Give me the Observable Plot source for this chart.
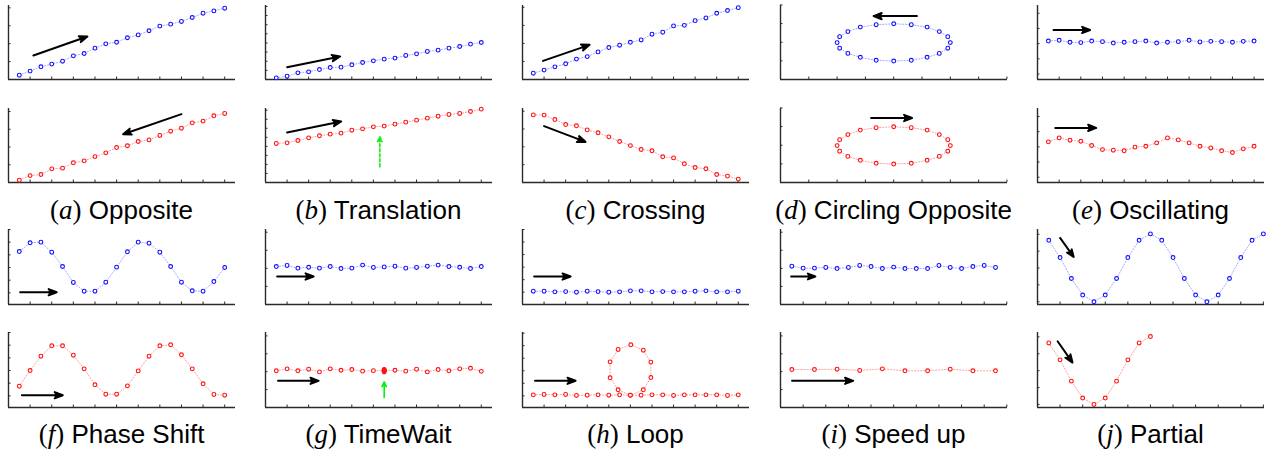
<!DOCTYPE html>
<html><head><meta charset="utf-8">
<script src="https://cdn.jsdelivr.net/npm/d3@7"></script>
<script src="https://cdn.jsdelivr.net/npm/@observablehq/plot@0.6"></script>
<style>
html,body{margin:0;padding:0;background:#fff;}
#root{position:relative;width:1272px;height:454px;overflow:hidden;background:#fff;}
.panel{position:absolute;}
.cap{position:absolute;font-family:"Liberation Sans",sans-serif;font-size:26px;line-height:26px;white-space:nowrap;transform:translateX(-50%);color:#000;}
.cap .m{font-family:"Liberation Serif",serif;font-size:27px;}
</style></head><body><div id="root"></div>
<script>
// ---------- data ----------
const xHalf20 = [0.5,1,1.5,2,2.5,3,3.5,4,4.5,5,5.5,6,6.5,7,7.5,8,8.5,9,9.5,10];
const xHalf19 = [0.5,1,1.5,2,2.5,3,3.5,4,4.5,5,5.5,6,6.5,7,7.5,8,8.5,9,9.5];
const xOdd10  = [0.5,1.5,2.5,3.5,4.5,5.5,6.5,7.5,8.5,9.5];
const xHalf10 = [0.5,1,1.5,2,2.5,3,3.5,4,4.5,5];

const aTopY = [0.24,0.47,0.71,0.86,1.02,1.32,1.45,1.75,1.99,2.08,2.33,2.49,2.72,2.98,3.09,3.24,3.46,3.70,3.83,3.98];
const aBotY = [0.13,0.39,0.45,0.77,0.81,1.11,1.22,1.46,1.67,1.97,2.07,2.31,2.40,2.65,2.89,3.06,3.36,3.46,3.76,3.89];
const bTopY = [0.18,0.36,0.73,0.84,1.09,1.31,1.35,1.61,1.86,2.04,2.23,2.34,2.63,2.81,3.07,3.21,3.43,3.61,3.87,4.05];
const bBotY = [4.32,4.39,4.65,4.94,5.17,5.35,5.46,5.79,5.94,6.16,6.24,6.46,6.68,6.90,7.12,7.34,7.53,7.64,7.86,8.12];
const cTopY = [0.35,0.52,0.70,0.87,1.13,1.27,1.53,1.77,1.90,2.06,2.19,2.51,2.62,2.97,3.00,3.26,3.41,3.67,3.82,3.98];
const cBotY = [3.79,3.78,3.53,3.25,3.18,2.95,2.79,2.56,2.30,2.07,1.85,1.78,1.44,1.38,1.05,0.84,0.77,0.45,0.36,0.19];
const dX = [4.0,4.62,5.18,5.61,5.91,6.0,5.91,5.61,5.18,4.62,4.0,3.38,2.82,2.38,2.09,2.0,2.09,2.38,2.82,3.38];
const dY = [2.99,2.94,2.81,2.57,2.30,1.98,1.68,1.40,1.19,1.03,0.99,1.03,1.19,1.40,1.68,1.98,2.30,2.57,2.81,2.94];
const eTopY = [0.17,0.22,0.09,0.07,0.17,0.13,0.04,0.09,0.13,0.17,0.04,0.09,0.13,0.22,0.11,0.15,0.13,0.09,0.15,0.17];
const eBotY = [0.33,0.59,0.44,0.37,0.09,-0.18,-0.22,-0.26,-0.02,0.04,0.26,0.59,0.46,0.26,0.04,-0.07,-0.26,-0.37,-0.13,0.04];
const fTopY = [1.26,1.95,2.0,1.21,0.08,-1.18,-1.87,-1.87,-1.16,0.03,1.24,2.0,1.92,1.21,0.08,-1.16,-1.84,-1.87,-1.11,0.0];
const fBotY = [-1.24,0.0,1.13,1.95,1.95,1.21,0.13,-1.13,-1.87,-1.87,-1.21,-0.03,1.13,1.95,2.03,1.24,0.13,-1.05,-1.89,-1.95];
const gTopY = [2.10,2.16,2.01,2.06,2.01,2.10,1.99,2.01,2.18,2.05,2.08,2.12,2.01,2.05,2.12,2.18,2.10,2.06,1.99,2.10];
const gBotY = [2.05,2.16,2.05,2.14,1.99,2.16,2.08,2.12,2.03,2.06,2.06,2.08,2.03,2.14,1.99,2.12,2.05,2.16,2.19,2.02];
const gWaitX = [5.5,5.5,5.5,5.5,5.5];
const gWaitY = [1.98,2.02,2.06,2.10,2.13];
const hTopY = [0.08,0.08,0.03,0.05,0.0,0.08,0.05,0.0,0.03,0.11,0.11,0.03,0.05,0.03,0.03,0.08,0.11,0.03,0.03,0.08];
const hBotX = [0.5,1,1.5,2,2.5,3,3.5,4,4.5,5,5.6,5.95,5.95,5.6,5.02,4.43,4.06,4.06,4.43,5,5.5,6,6.5,7,7.5,8,8.5,9,9.5,10];
const hBotY = [0.08,0.11,0.08,0.11,0.03,0.05,0.08,0.05,0.08,0.05,0.48,1.46,2.69,3.64,4.07,3.70,2.71,1.44,0.48,0.05,0.05,0.08,0.08,0.03,0.08,0.08,0.08,0.08,0.03,0.08];
const iTopY = [2.12,2.01,2.01,2.05,1.99,2.05,2.16,2.10,1.99,2.07,1.99,1.99,1.99,2.16,2.05,1.99,2.10,2.16,2.05];
const iBotY = [2.12,2.12,2.14,2.07,2.16,2.05,2.05,2.14,2.05,2.05];
const jTopY = [0.82,0.31,-0.31,-0.80,-1.0,-0.80,-0.31,0.31,0.82,1.01,0.82,0.31,-0.31,-0.80,-1.0,-0.80,-0.31,0.31,0.82,1.01];
const jBotY = [0.82,0.32,-0.31,-0.81,-1.0,-0.81,-0.31,0.32,0.82,1.01];

// arrows: [x1, y1, x2, y2]
const aTopArrow = [1.15,1.34,3.65,2.40];
const aBotArrow = [8.0,3.85,5.3,2.72];
const bTopArrow = [1.0,1.35,3.46,2.52];
const bBotArrow = [1.0,5.54,3.51,6.75];
const bGreenArrow = [5.3,1.73,5.3,5.06];
const cTopArrow = [0.95,1.03,3.11,1.92];
const cBotArrow = [1.0,3.16,2.92,2.28];
const dTopArrow = [4.82,3.40,3.29,3.40];
const dBotArrow = [3.2,3.46,4.65,3.46];
const eTopArrow = [0.74,0.90,2.43,0.90];
const eBotArrow = [0.82,1.25,2.71,1.25];
const fTopArrow = [0.54,-1.95,2.23,-1.95];
const fBotArrow = [0.62,-1.95,2.51,-1.95];
const gTopArrow = [0.54,1.55,2.23,1.55];
const gBotArrow = [0.58,1.49,2.46,1.49];
const gGreenArrow = [5.5,0.56,5.5,1.43];
const hTopArrow = [0.54,1.25,2.23,1.25];
const hBotArrow = [0.58,1.20,2.46,1.20];
const iTopArrow = [0.47,1.55,1.54,1.55];
const iBotArrow = [0.51,1.49,3.21,1.49];
const jTopArrow = [1.0,0.89,1.6,0.33];
const jBotArrow = [0.89,0.87,1.55,0.24];

// ticks
const ticks0to10 = [0,1,2,3,4,5,6,7,8,9,10];
const ticks0to8 = [0,1,2,3,4,5,6,7,8];
const ticks0to4 = [0,1,2,3,4];
const ticks0to5 = [0,1,2,3,4,5];
const ticksM2to2 = [-2,-1,0,1,2];
const ticksM2to3 = [-2,-1,0,1,2,3];
const ticksJ = [-1,-0.5,0,0.5,1];

// captions
const capLetters = ["a","b","c","d","e","f","g","h","i","j"];
const capNames = ["Opposite","Translation","Crossing","Circling Opposite","Oscillating","Phase Shift","TimeWait","Loop","Speed up","Partial"];

// ---------- layout ----------
const colLeft = [8, 265, 522, 780, 1037];
const frameW = 227;
const rowTop = [5, 108, 229, 332];
const frameH = [74, 74, 75, 75];
const M = 5;

const BLUE = {stroke: "#1010ff", line: "#a8a8ff"};
const RED = {stroke: "#ff1010", line: "#ffa0a0"};

const panels = [
  {c:0,r:0,x:xHalf20,y:aTopY,col:BLUE,xd:[0,10.5],yd:[0,4.13],xt:ticks0to10,yt:ticks0to4,arrow:aTopArrow},
  {c:0,r:1,x:xHalf20,y:aBotY,col:RED,xd:[0,10.5],yd:[0,4.17],xt:ticks0to10,yt:ticks0to4,arrow:aBotArrow},
  {c:1,r:0,x:xHalf20,y:bTopY,col:BLUE,xd:[0,10.52],yd:[0,8.1],xt:ticks0to10,yt:ticks0to8,arrow:bTopArrow},
  {c:1,r:1,x:xHalf20,y:bBotY,col:RED,xd:[0,10.52],yd:[0,8.19],xt:ticks0to10,yt:ticks0to8,arrow:bBotArrow,green:bGreenArrow,dashed:true},
  {c:2,r:0,x:xHalf20,y:cTopY,col:BLUE,xd:[0,10.52],yd:[0,4.1],xt:ticks0to10,yt:ticks0to4,arrow:cTopArrow},
  {c:2,r:1,x:xHalf20,y:cBotY,col:RED,xd:[0,10.52],yd:[0,4.15],xt:ticks0to10,yt:ticks0to4,arrow:cBotArrow},
  {c:3,r:0,x:dX,y:dY,col:BLUE,xd:[0,8.02],yd:[0,3.97],xt:ticks0to8,yt:ticks0to4,arrow:dTopArrow,closed:true},
  {c:3,r:1,x:dX,y:dY,col:RED,xd:[0,8.02],yd:[0,3.97],xt:ticks0to8,yt:ticks0to4,arrow:dBotArrow,closed:true},
  {c:4,r:0,x:xHalf20,y:eTopY,col:BLUE,xd:[0,10.48],yd:[-2.36,2.51],xt:ticks0to10,yt:ticksM2to2,arrow:eTopArrow},
  {c:4,r:1,x:xHalf20,y:eBotY,col:RED,xd:[0,10.48],yd:[-2.35,2.53],xt:ticks0to10,yt:ticksM2to2,arrow:eBotArrow},
  {c:0,r:2,x:xHalf20,y:fTopY,col:BLUE,xd:[0,10.5],yd:[-2.92,3.0],xt:ticks0to10,yt:ticksM2to3,arrow:fTopArrow},
  {c:0,r:3,x:xHalf20,y:fBotY,col:RED,xd:[0,10.5],yd:[-2.92,3.0],xt:ticks0to10,yt:ticksM2to3,arrow:fBotArrow},
  {c:1,r:2,x:xHalf20,y:gTopY,col:BLUE,xd:[0,10.52],yd:[0,4.15],xt:ticks0to10,yt:ticks0to4,arrow:gTopArrow},
  {c:1,r:3,x:xHalf20,y:gBotY,col:RED,xd:[0,10.52],yd:[0,4.19],xt:ticks0to10,yt:ticks0to4,arrow:gBotArrow,green:gGreenArrow,wait:true},
  {c:2,r:2,x:xHalf20,y:hTopY,col:BLUE,xd:[0,10.52],yd:[-0.98,5.0],xt:ticks0to10,yt:ticks0to5,arrow:hTopArrow},
  {c:2,r:3,x:hBotX,y:hBotY,col:RED,xd:[0,10.52],yd:[-0.93,5.05],xt:ticks0to10,yt:ticks0to5,arrow:hBotArrow},
  {c:3,r:2,x:xHalf19,y:iTopY,col:BLUE,xd:[0,10.03],yd:[0,4.15],xt:ticks0to10,yt:ticks0to4,arrow:iTopArrow},
  {c:3,r:3,x:xOdd10,y:iBotY,col:RED,xd:[0,10.03],yd:[0,4.19],xt:ticks0to10,yt:ticks0to4,arrow:iBotArrow},
  {c:4,r:2,x:xHalf20,y:jTopY,col:BLUE,xd:[0,10.05],yd:[-1.08,1.14],xt:ticks0to10,yt:ticksJ,arrow:jTopArrow},
  {c:4,r:3,x:xHalf10,y:jBotY,col:RED,xd:[0,10.05],yd:[-1.09,1.13],xt:ticks0to10,yt:ticksJ,arrow:jBotArrow}
];

const root = document.getElementById("root");
const AX = "#2a2a2a";

for (const p of panels) {
  const pts = p.x.map((x, i) => ({x, y: p.y[i]}));
  const marks = [
    Plot.line(pts, {x: "x", y: "y", stroke: p.col.line, strokeWidth: 1, strokeDasharray: "1.2 1.8", curve: p.closed ? "linear-closed" : "linear"}),
    Plot.ruleY([p.yd[0]], {stroke: AX, strokeWidth: 1.4}),
    Plot.ruleX([p.xd[0]], {stroke: AX, strokeWidth: 1.4}),
    Plot.ruleX(p.xt, {x: d => d, y1: () => p.yd[0], y2: () => p.yd[0], insetBottom: 2.5, stroke: AX, strokeWidth: 1}),
    Plot.ruleY(p.yt, {y: d => d, x1: () => p.xd[0], x2: () => p.xd[0], insetRight: -2.5, stroke: AX, strokeWidth: 1}),
    Plot.dot(pts, {x: "x", y: "y", r: 1.9, stroke: p.col.stroke, fill: "white", strokeWidth: 1.1})
  ];
  if (p.wait) {
    marks.push(Plot.dot(gWaitX.map((x, i) => ({x, y: gWaitY[i]})), {x: "x", y: "y", r: 2, fill: p.col.stroke, stroke: p.col.stroke, strokeWidth: 0.8}));
  }
  marks.push(Plot.arrow([p.arrow], {x1: d => d[0], y1: d => d[1], x2: d => d[2], y2: d => d[3], stroke: "black", fill: "black", strokeWidth: 2, headLength: 6.5, headAngle: 42}));
  if (p.green) {
    marks.push(Plot.arrow([p.green], {x1: d => d[0], y1: d => d[1], x2: d => d[2], y2: d => d[3], stroke: "#11ee11", fill: "#11ee11", strokeWidth: 1.6, headLength: 5, headAngle: 50, strokeDasharray: p.dashed ? "3 2" : null}));
  }
  const svg = Plot.plot({
    width: frameW + 2 * M,
    height: frameH[p.r] + 2 * M,
    marginLeft: M, marginRight: M, marginTop: M, marginBottom: M,
    x: {domain: p.xd, axis: null},
    y: {domain: p.yd, axis: null},
    style: {background: "transparent", overflow: "visible"},
    marks
  });
  svg.classList.add("panel");
  svg.style.left = (colLeft[p.c] - M) + "px";
  svg.style.top = (rowTop[p.r] - M) + "px";
  root.appendChild(svg);
}

// captions
const capBaseline = [219, 443];
capLetters.forEach((L, i) => {
  const c = i % 5, row = Math.floor(i / 5);
  const d = document.createElement("div");
  d.className = "cap";
  d.innerHTML = `<span class="m">(<i>${L}</i>)</span> ${capNames[i]}`;
  d.style.left = (colLeft[c] + frameW / 2) + "px";
  d.style.top = (capBaseline[row] - 22) + "px";
  root.appendChild(d);
});
</script>
</body></html>
